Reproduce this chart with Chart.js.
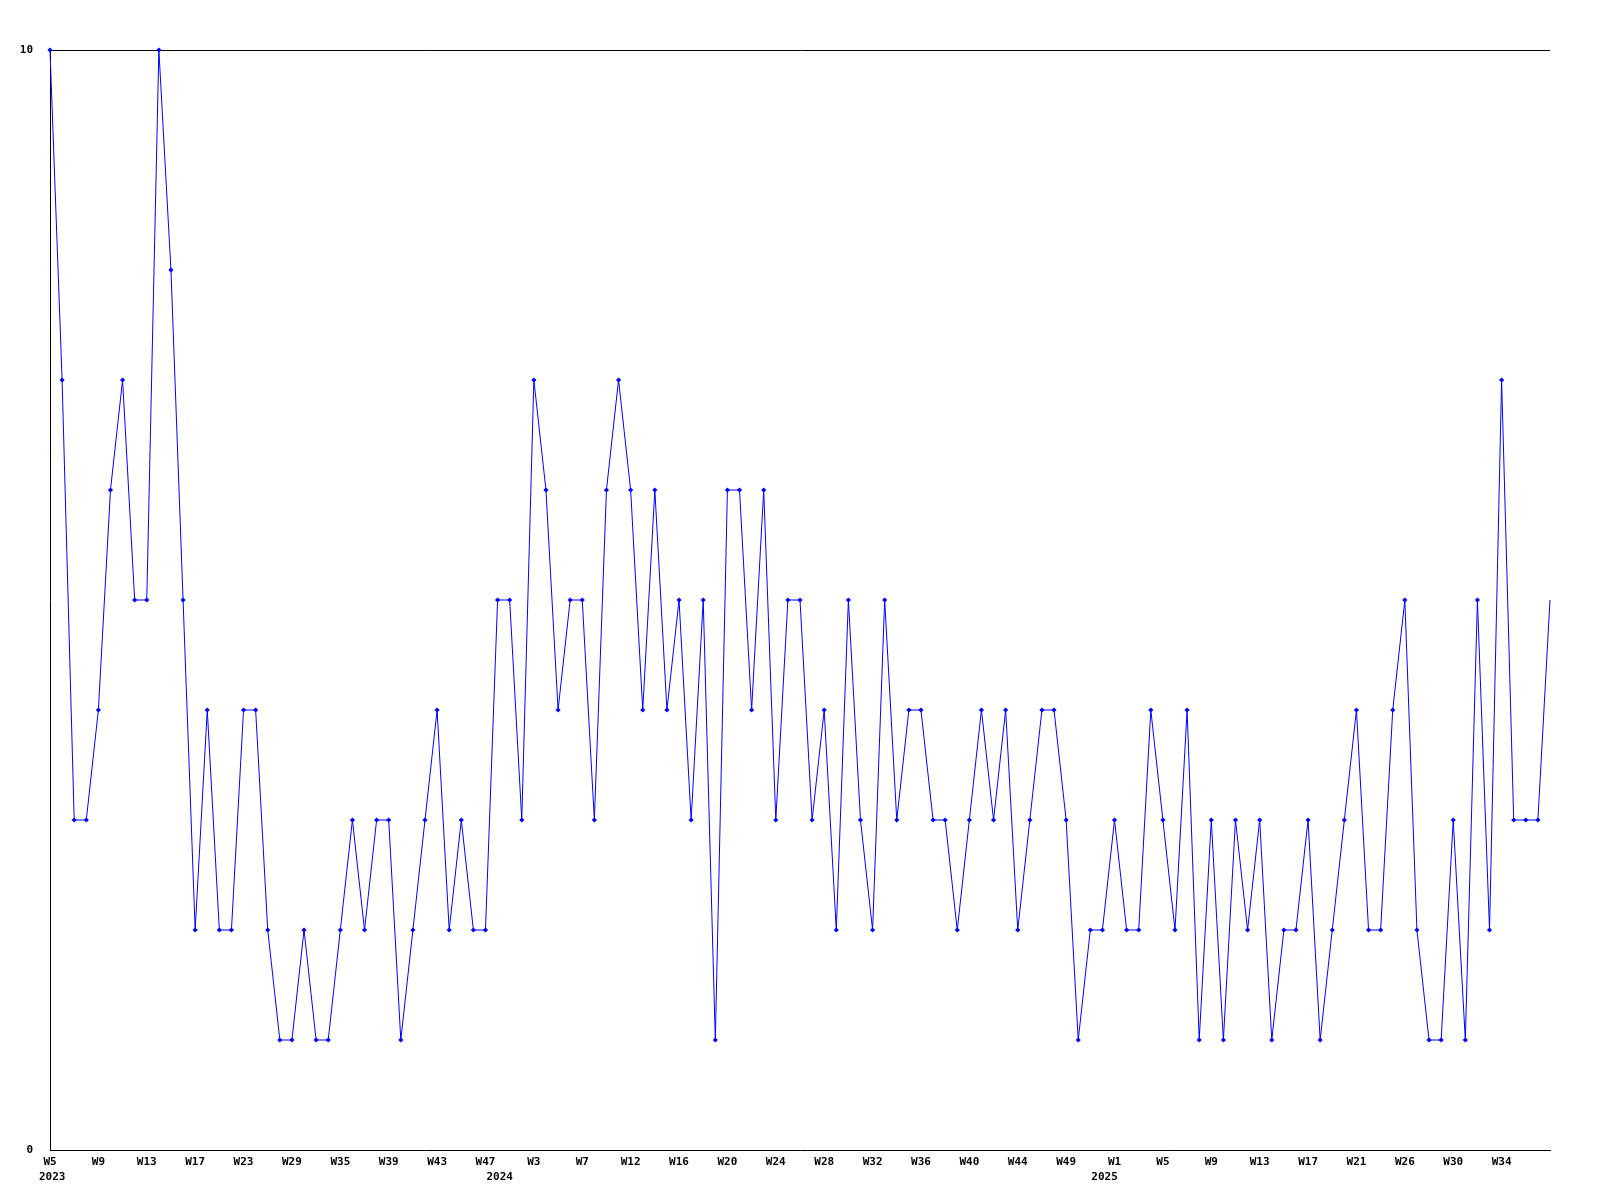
<!DOCTYPE html>
<html lang="en">
<head>
  <meta charset="UTF-8">
  <title>Weekly count</title>
  <script src="https://cdn.jsdelivr.net/npm/chart.js"></script>
  <style>
    html, body { margin: 0; padding: 0; background: #fff; }
    #wrap { width: 1600px; height: 1200px; }
  </style>
</head>
<body>
  <div id="wrap"><canvas id="weekChart"></canvas></div>

  <script>
    // --- DATA ---
    const weeks2023 = [5, 6, 7, 8, 9, 10, 11, 12, 13, 14, 15, 16, 17, 18, 20, 22, 23, 24, 26, 27, 29, 30, 32, 33,
                       35, 36, 37, 38, 39, 40, 41, 42, 43, 44, 45, 46, 47, 49];
    const weeks2024 = [1, 2, 3, 4, 5, 6, 7, 8, 9, 11, 12, 13, 14, 15, 16, 17, 18, 19, 20, 21, 22, 23, 24, 25,
                       26, 27, 28, 29, 30, 31, 32, 33, 34, 35, 36, 37, 38, 39, 40, 41, 42, 43, 44, 45, 46, 47,
                       49, 50, 51, 52];
    const weeks2025 = [1, 2, 3, 4, 5, 6, 7, 8, 9, 10, 11, 12, 13, 14, 15, 16, 17, 18, 19, 20, 21, 22, 23, 25,
                       26, 27, 28, 29, 30, 31, 32, 33, 34, 35, 36, 37, 38];
    const years = ['2023', '2024', '2025'];

    const counts = [
      10, 7, 3, 3, 4, 6, 7, 5, 5, 10, 8, 5, 2, 4, 2, 2, 4, 4, 2, 1,
      1, 2, 1, 1, 2, 3, 2, 3, 3, 1, 2, 3, 4, 2, 3, 2, 2, 5, 5, 3,
      7, 6, 4, 5, 5, 3, 6, 7, 6, 4, 6, 4, 5, 3, 5, 1, 6, 6, 4, 6,
      3, 5, 5, 3, 4, 2, 5, 3, 2, 5, 3, 4, 4, 3, 3, 2, 3, 4, 3, 4,
      2, 3, 4, 4, 3, 1, 2, 2, 3, 2, 2, 4, 3, 2, 4, 1, 3, 1, 3, 2,
      3, 1, 2, 2, 3, 1, 2, 3, 4, 2, 2, 4, 5, 2, 1, 1, 3, 1, 5, 2,
      7, 3, 3, 3, 5
    ];

    const yTicks = [0, 10];

    // build category labels and remember where each year starts
    const labels = [];
    const yearStart = [];
    [weeks2023, weeks2024, weeks2025].forEach(list => {
      yearStart.push(labels.length);
      list.forEach(w => labels.push('W' + w));
    });

    const monoFont = { family: "'DejaVu Sans Mono', monospace", size: 11, weight: 'bold' };
    const lastIdx = counts.length - 1;

    // year line under the week labels
    const yearLabels = {
      id: 'yearLabels',
      afterDraw(chart) {
        const ctx = chart.ctx;
        const xs = chart.scales.x;
        ctx.save();
        ctx.font = "bold 11px 'DejaVu Sans Mono', monospace";
        ctx.fillStyle = '#000';
        ctx.textAlign = 'center';
        ctx.textBaseline = 'middle';
        years.forEach((yr, k) => {
          let x = xs.getPixelForValue(yearStart[k]) - 10;
          const half = ctx.measureText(yr).width / 2;
          if (x - half < 39) x = 39 + half;
          ctx.fillText(yr, x, 1177);
        });
        ctx.restore();
      }
    };

    new Chart(document.getElementById('weekChart'), {
      type: 'line',
      data: {
        labels: labels,
        datasets: [{
          data: counts,
          borderColor: '#0000ff',
          backgroundColor: '#0000ff',
          borderWidth: 1,
          tension: 0,
          pointStyle: 'rectRot',
          pointRadius: c => c.dataIndex === lastIdx ? 0 : 2.6,
          pointBorderWidth: 0,
          pointHoverRadius: 3,
          clip: false
        }]
      },
      options: {
        responsive: true,
        maintainAspectRatio: false,
        animation: false,
        layout: { padding: { top: 50, right: 50, left: 0, bottom: 0 } },
        plugins: { legend: { display: false }, tooltip: { enabled: false } },
        scales: {
          x: {
            grid: { display: false, drawTicks: false },
            border: { display: true, color: '#000', width: 1 },
            ticks: {
              autoSkip: false,
              maxRotation: 0,
              padding: 6,
              color: '#000',
              font: monoFont,
              callback: function (val, i) {
                return (i % 4 === 0 && i < lastIdx) ? this.getLabelForValue(val) : '';
              }
            },
            afterFit: s => { s.height = 50; }
          },
          y: {
            min: 0,
            max: 10,
            afterBuildTicks: s => { s.ticks = yTicks.map(v => ({ value: v })); },
            grid: {
              color: c => c.tick && c.tick.value === 10 ? '#000' : 'rgba(0,0,0,0)',
              lineWidth: 1,
              drawTicks: false
            },
            border: { display: true, color: '#000', width: 1 },
            ticks: { padding: 17, color: '#000', font: monoFont },
            afterFit: s => { s.width = 50; }
          }
        }
      },
      plugins: [yearLabels]
    });
  </script>
</body>
</html>
